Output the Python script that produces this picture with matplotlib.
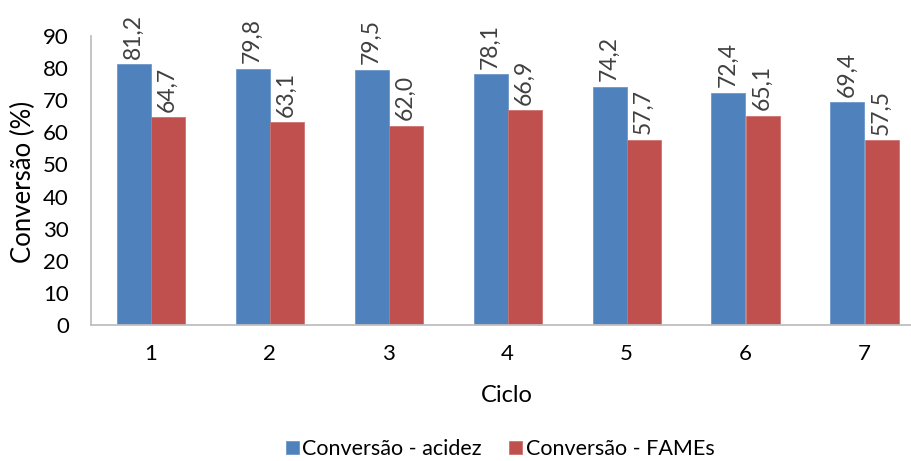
import matplotlib
matplotlib.use("Agg")
import matplotlib.pyplot as plt
import numpy as np

plt.rcParams['font.family'] = ['Lato', 'DejaVu Sans']

ciclos = ["1", "2", "3", "4", "5", "6", "7"]
conv_acidez = [81.2, 79.8, 79.5, 78.1, 74.2, 72.4, 69.4]
conv_fames = [64.7, 63.1, 62.0, 66.9, 57.7, 65.1, 57.5]
series_names = ["Conversão - acidez", "Conversão - FAMEs"]
yticks = [0, 10, 20, 30, 40, 50, 60, 70, 80, 90]

blue = "#4F81BD"
red = "#C0504D"
axis_gray = "#BFBFBF"
label_gray = "#404040"

W, H = 911, 461
fig = plt.figure(figsize=(W / 100, H / 100), dpi=100)
ax = fig.add_axes([91 / W, (H - 325) / H, 833 / W, 289 / H])

x = np.arange(len(ciclos))
bw = 1 / 3.5
b1 = ax.bar(x - bw / 2, conv_acidez, bw, color=blue, edgecolor="#6F97C9", linewidth=0.6,
            label=series_names[0])
b2 = ax.bar(x + bw / 2, conv_fames, bw, color=red, edgecolor="#CC7370", linewidth=0.6,
            label=series_names[1])

for bars, vals in ((b1, conv_acidez), (b2, conv_fames)):
    for rect, v in zip(bars, vals):
        ax.annotate(f"{v:.1f}".replace(".", ","),
                    (rect.get_x() + rect.get_width() / 2, v),
                    xytext=(0, 4), textcoords="offset points",
                    rotation=90, ha="center", va="bottom",
                    fontsize=16.5, color=label_gray)

ax.set_xlim(-0.5, len(ciclos) - 0.5)
ax.set_ylim(0, 90)
ax.set_xticks(x)
ax.set_xticklabels(ciclos)
ax.set_yticks(yticks)
ax.tick_params(axis="both", length=0, labelsize=16, colors="black")
ax.tick_params(axis="x", pad=14)
ax.tick_params(axis="y", pad=16)

for s in ("top", "right"):
    ax.spines[s].set_visible(False)
for s in ("left", "bottom"):
    ax.spines[s].set_color(axis_gray)
    ax.spines[s].set_linewidth(1.3)

fig.text(23 / W, 1 - 182 / H, "Conversão (%)", rotation=90, ha="center", va="center",
         fontsize=18.5)
fig.text(507 / W, 1 - 395 / H, "Ciclo", ha="center", va="center", fontsize=17)

fig.legend(handles=[b1, b2], labels=series_names, loc="center",
           bbox_to_anchor=(500 / W, 1 - 449 / H), ncol=2, frameon=False,
           fontsize=15.5, handlelength=0.6, handleheight=0.6, handletextpad=0.15,
           columnspacing=1.3, borderpad=0.2)

fig.savefig("out.png", dpi=100)
